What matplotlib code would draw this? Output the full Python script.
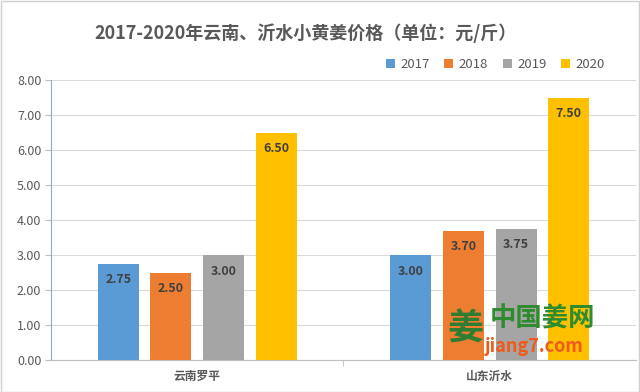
import matplotlib
matplotlib.use('Agg')
import matplotlib.pyplot as plt
from matplotlib.patches import Rectangle
import numpy as np

plt.rcParams['font.family'] = ['Noto Sans CJK SC', 'DejaVu Sans']

# Data
categories = ['云南罗平', '山东沂水']
years = ['2017', '2018', '2019', '2020']
prices = {
    '2017': [2.75, 3.00],
    '2018': [2.50, 3.70],
    '2019': [3.00, 3.75],
    '2020': [6.50, 7.50],
}
colors = ['#5B9BD5', '#ED7D31', '#A5A5A5', '#FFC000']
title = '2017-2020年云南、沂水小黄姜价格（单位：元/斤）'

fig = plt.figure(figsize=(6.4, 3.92), dpi=100)
ax = fig.add_axes([0.0797, 0.0816, 0.914, 0.714])

x = np.arange(len(categories))
width = 0.14
step = 0.18
for i, yr in enumerate(years):
    pos = x + (i - 1.5) * step
    bars = ax.bar(pos, prices[yr], width, color=colors[i], label=yr, zorder=3)
    for b, v in zip(bars, prices[yr]):
        ax.annotate(f'{v:.2f}', (b.get_x() + b.get_width() / 2, v),
                    xytext=(0, -16), textcoords='offset pixels',
                    ha='center', va='center', fontsize=9, fontweight='bold',
                    color='#404040', zorder=4)

ax.set_xlim(-0.5, 1.5)
ax.set_ylim(0, 8)
ax.set_yticks(np.arange(0, 8.01, 1))
ax.set_yticklabels([f'{v:.2f}' for v in np.arange(0, 8.01, 1)])
ax.set_xticks(x)
ax.set_xticklabels(categories, fontweight='bold')
ax.set_xticks([0.5], minor=True)
ax.tick_params(axis='x', which='major', length=0, labelsize=8.5, colors='#595959', pad=7)
ax.tick_params(axis='x', which='minor', length=4, color='#BFBFBF')
ax.tick_params(axis='y', length=4, color='#BFBFBF', labelsize=9, labelcolor='#595959', pad=3)
ax.grid(axis='y', color='#D9D9D9', linewidth=0.8, zorder=0)
for s in ['top', 'right']:
    ax.spines[s].set_visible(False)
ax.spines['left'].set_color('#8EA9C1')
ax.spines['left'].set_linewidth(0.8)
ax.spines['bottom'].set_color('#BFBFBF')
ax.spines['bottom'].set_linewidth(0.8)

fig.text(0.478, 0.915, title, ha='center', va='center', fontsize=13,
         fontweight='bold', color='#595959')

ax.legend(loc='upper right', bbox_to_anchor=(0.967, 1.12), ncol=4, frameon=False,
          fontsize=9.5, handlelength=0.7, handleheight=0.7, handletextpad=0.4,
          columnspacing=1.1, labelcolor='#595959')

# watermark
fig.text(0.765, 0.185, '中国姜网', fontsize=19, fontweight='bold', color='#2E8B2E',
         ha='left', va='center')
fig.text(0.758, 0.115, 'jiang7.com', fontsize=13, fontweight='bold', style='italic',
         color='#F05A1A', ha='left', va='center')
fig.text(0.728, 0.16, '姜', fontsize=26, fontweight='bold', color='#2E7D32',
         ha='center', va='center')

fig.patches.append(Rectangle((0.001, 0.001), 0.997, 0.997, transform=fig.transFigure,
                             fill=False, edgecolor='#D0D0D0', linewidth=1))

fig.savefig('out.png', dpi=100)
